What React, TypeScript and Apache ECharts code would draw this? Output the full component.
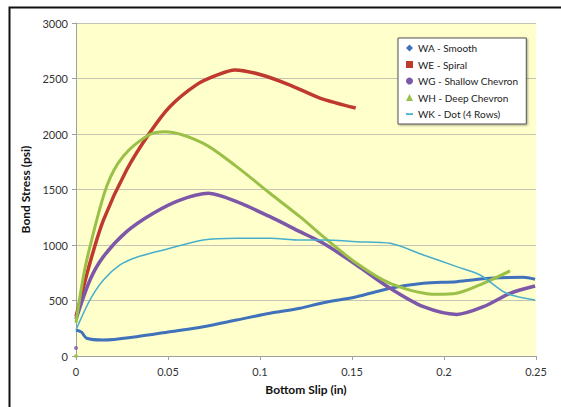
import React, { useEffect, useRef } from "react";
import * as echarts from "echarts";

const seriesNames = ["WA - Smooth", "WE - Spiral", "WG - Shallow Chevron", "WH - Deep Chevron", "WK - Dot (4 Rows)"];
const seriesColors = ["#3F72BA", "#C0392F", "#7D57A8", "#9BC047", "#48AECB"];

const waX = [0, 0.003, 0.0058, 0.0149, 0.033, 0.0511, 0.0692, 0.0873, 0.1054, 0.1217, 0.1344, 0.1525, 0.1707, 0.1888, 0.2069, 0.225, 0.2431, 0.2495];
const waY = [234, 215, 160, 144, 174, 219, 264, 324, 385, 430, 480, 534, 610, 655, 670, 700, 709, 691];

const weX = [0, 0.0076, 0.0149, 0.0275, 0.040, 0.051, 0.0656, 0.0765, 0.0864, 0.101, 0.1163, 0.1326, 0.152];
const weY = [354, 840, 1225, 1676, 2009, 2246, 2445, 2530, 2577, 2532, 2441, 2324, 2234];

const wgX = [0, 0.0076, 0.0149, 0.0275, 0.042, 0.0565, 0.0719, 0.0873, 0.1054, 0.1217, 0.1344, 0.1525, 0.1707, 0.1888, 0.2069, 0.2214, 0.2359, 0.2495];
const wgY = [330, 685, 895, 1120, 1286, 1405, 1466, 1390, 1255, 1120, 1015, 820, 610, 444, 375, 444, 565, 631];

const whX = [0, 0.004, 0.0076, 0.0167, 0.0257, 0.040, 0.0484, 0.0692, 0.0873, 0.1054, 0.1217, 0.1344, 0.1525, 0.1707, 0.196, 0.2069, 0.2214, 0.2359];
const whY = [300, 714, 985, 1530, 1800, 1995, 2021, 1916, 1706, 1466, 1255, 1075, 835, 655, 556, 565, 655, 766];

const wkX = [0, 0.0076, 0.0149, 0.0239, 0.033, 0.0511, 0.0692, 0.0873, 0.1054, 0.1217, 0.1344, 0.1525, 0.1707, 0.1888, 0.2069, 0.2196, 0.234, 0.2495];
const wkY = [234, 505, 685, 820, 890, 970, 1045, 1060, 1060, 1045, 1045, 1030, 1015, 910, 805, 730, 565, 505];

const outlierX = [0, 0];
const outlierY = [72, 0];
const outlierColors = ["#7D57A8", "#9BC047"];

const xTicks = [0, 0.05, 0.1, 0.15, 0.2, 0.25];
const yTicks = [0, 500, 1000, 1500, 2000, 2500, 3000];

const legendIcons = [
  "diamond",
  "rect",
  "circle",
  "triangle",
  "path://M0,0 L0.01,0 Z M0,4 H10 V6.5 H0 Z M0,10 L0.01,10 Z",
];

const zip = (xs: number[], ys: number[]) => xs.map((x, i) => [x, ys[i]]);

const FONT = "Lato, 'Open Sans', sans-serif";

export default function App() {
  const ref = useRef<HTMLDivElement>(null);
  useEffect(() => {
    if (!ref.current) return;
    const chart = echarts.init(ref.current, null, { renderer: "svg" });
    const xs = [waX, weX, wgX, whX, wkX];
    const ys = [waY, weY, wgY, whY, wkY];
    const widths = [3, 3.5, 3.5, 3, 1.5];
    const series: any[] = seriesNames.map((name, i) => ({
      name,
      type: "line",
      data: zip(xs[i], ys[i]),
      smooth: 0.3,
      showSymbol: false,
      symbol: "none",
      lineStyle: { color: seriesColors[i], width: widths[i] },
      itemStyle: { color: seriesColors[i] },
      z: i === 4 ? 3 : 2,
    }));
    series.push({
      name: "start",
      type: "scatter",
      data: outlierX.map((x, i) => ({ value: [x, outlierY[i]], itemStyle: { color: outlierColors[i] } })),
      symbolSize: 4,
      z: 4,
    });
    chart.setOption({
      animation: false,
      textStyle: { fontFamily: FONT },
      grid: { left: 76, right: 25, top: 23, bottom: 51, show: true, backgroundColor: "#FFFFCC", borderWidth: 0 },
      legend: {
        orient: "vertical",
        left: 398,
        top: 38,
        padding: [5, 8, 5, 8],
        itemWidth: 7,
        itemHeight: 7,
        itemGap: 6.5,
        backgroundColor: "#FFFFFF",
        borderColor: "#555",
        borderWidth: 1,
        shadowColor: "rgba(0,0,0,0.35)",
        shadowBlur: 2,
        shadowOffsetX: 1,
        shadowOffsetY: 1,
        textStyle: { fontSize: 10, color: "#222", fontFamily: FONT },
        data: seriesNames.map((n, i) => ({ name: n, icon: legendIcons[i], itemStyle: { color: seriesColors[i] } })),
      },
      xAxis: {
        type: "value",
        min: 0,
        max: 0.25,
        interval: 0.05,
        name: "Bottom Slip (in)",
        nameLocation: "middle",
        nameGap: 27,
        nameTextStyle: { fontSize: 12, fontWeight: "bold", color: "#111", fontFamily: FONT },
        axisLine: { show: true, lineStyle: { color: "#A0A0A0" } },
        axisTick: { show: true, length: 4, lineStyle: { color: "#A0A0A0" } },
        axisLabel: {
          fontSize: 11,
          color: "#333",
          margin: 10,
          formatter: (v: number) => {
            const t = xTicks.find((k) => Math.abs(k - v) < 1e-9);
            return t === undefined ? "" : String(t);
          },
        },
        splitLine: { show: false },
      },
      yAxis: {
        type: "value",
        min: 0,
        max: 3000,
        interval: 500,
        name: "Bond Stress (psi)",
        nameLocation: "middle",
        nameGap: 38,
        nameTextStyle: { fontSize: 12, fontWeight: "bold", color: "#111", fontFamily: FONT },
        axisLine: { show: true, lineStyle: { color: "#A0A0A0" } },
        axisTick: { show: true, length: 4, lineStyle: { color: "#A0A0A0" } },
        axisLabel: {
          fontSize: 11,
          color: "#333",
          margin: 8,
          formatter: (v: number) => (yTicks.includes(v) ? String(v) : ""),
        },
        splitLine: { show: true, lineStyle: { color: "#C4C4B4", width: 1 } },
      },
      graphic: [
        {
          type: "rect",
          left: 7,
          top: 5,
          shape: { width: 600, height: 450 },
          style: { fill: "none", stroke: "#111", lineWidth: 2 },
          silent: true,
          z: 100,
        },
      ],
      series,
    });
    return () => chart.dispose();
  }, []);
  return (
    <div
      ref={ref}
      style={{ position: "absolute", left: 0, top: 0, width: 561, height: 407, background: "#fff" }}
    />
  );
}
